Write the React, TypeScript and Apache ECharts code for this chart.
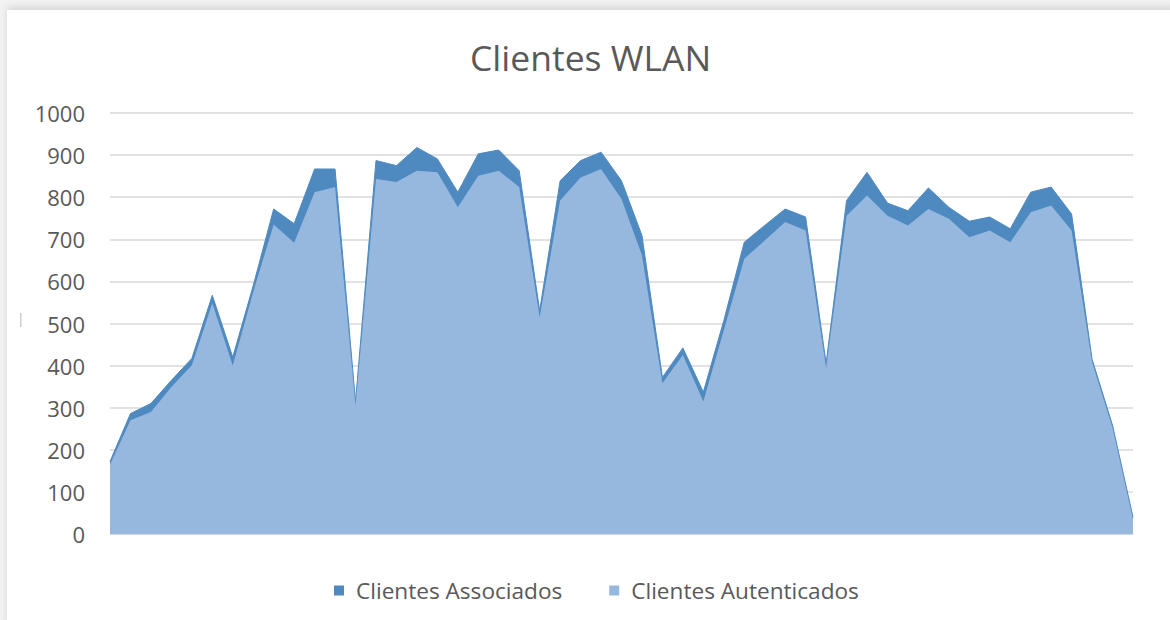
import React, { useEffect, useRef } from "react";
import * as echarts from "echarts";

const categories: string[] = Array.from({ length: 51 }, (_, i) => String(i + 1));

const clientesAssociados: number[] = [
  172, 286, 310, 365, 417, 567, 420, 590, 772, 737, 867, 867, 315, 887, 875, 918, 891,
  812, 903, 912, 863, 530, 839, 887, 907, 839, 709, 372, 442, 337, 507, 693, 733, 772,
  753, 405, 792, 859, 786, 768, 822, 776, 743, 753, 725, 812, 824, 760, 415, 258, 40,
];

const clientesAutenticados: number[] = [
  165, 270, 290, 349, 401, 548, 400, 575, 735, 692, 812, 824, 305, 843, 836, 863, 859,
  776, 851, 863, 824, 515, 792, 847, 867, 796, 662, 358, 425, 315, 484, 654, 697, 741,
  721, 395, 756, 804, 756, 733, 772, 749, 705, 721, 693, 764, 780, 721, 408, 252, 35,
];

const seriesNames = ["Clientes Associados", "Clientes Autenticados"];
const DARK = "#4E8AC0";
const LIGHT = "#96B8DE";
const TEXT = "#595959";
const FONT = "'Open Sans', sans-serif";

export default function App() {
  const ref = useRef<HTMLDivElement>(null);

  useEffect(() => {
    document.body.style.margin = "0";
    if (!ref.current) return;
    const chart = echarts.init(ref.current, null, { renderer: "svg" });
    chart.setOption({
      animation: false,
      title: {
        text: "Clientes WLAN",
        left: 465,
        top: 34,
        textStyle: { fontFamily: FONT, fontSize: 35.5, fontWeight: "normal", color: TEXT },
      },
      legend: {
        data: seriesNames,
        left: 329,
        top: 574,
        icon: "rect",
        itemWidth: 10,
        itemHeight: 10,
        itemGap: 47,
        textStyle: {
          fontFamily: FONT,
          fontSize: 22.6,
          color: TEXT,
          padding: [0, 0, 0, 7],
        },
      },
      grid: { left: 110, right: 37, top: 113, bottom: 86, containLabel: false },
      xAxis: {
        type: "category",
        data: categories,
        boundaryGap: false,
        axisLabel: { show: false },
        axisTick: { show: false },
        axisLine: { show: true, lineStyle: { color: "#d9d9d9", width: 1 } },
      },
      yAxis: {
        type: "value",
        min: 0,
        max: 1000,
        interval: 100,
        axisLine: { show: false },
        axisTick: { show: false },
        axisLabel: {
          fontFamily: FONT,
          fontSize: 22,
          color: TEXT,
          margin: 25,
          formatter: (v: number) => String(v),
        },
        splitLine: { lineStyle: { color: "#d9d9d9", width: 1.5 } },
      },
      graphic: [
        {
          type: "rect",
          shape: { x: 20, y: 313, width: 1.5, height: 14 },
          style: { fill: "#cfcfcf" },
        },
      ],
      series: [
        {
          name: seriesNames[0],
          type: "line",
          data: clientesAssociados,
          symbol: "none",
          lineStyle: { color: DARK, width: 1 },
          itemStyle: { color: DARK },
          areaStyle: { color: DARK, opacity: 1 },
          z: 2,
        },
        {
          name: seriesNames[1],
          type: "line",
          data: clientesAutenticados,
          symbol: "none",
          lineStyle: { color: LIGHT, width: 0 },
          itemStyle: { color: LIGHT },
          areaStyle: { color: LIGHT, opacity: 1 },
          z: 3,
        },
      ],
    });
    return () => chart.dispose();
  }, []);

  return (
    <div style={{ position: "relative", width: 1170, height: 620, background: "#f3f3f3", overflow: "hidden" }}>
      <div
        style={{
          position: "absolute",
          left: 7,
          top: 10,
          width: 1170,
          height: 620,
          background: "#ffffff",
          boxShadow: "0 -3px 8px rgba(0,0,0,0.12)",
        }}
      />
      <div ref={ref} style={{ position: "absolute", left: 0, top: 0, width: 1170, height: 620 }} />
    </div>
  );
}
